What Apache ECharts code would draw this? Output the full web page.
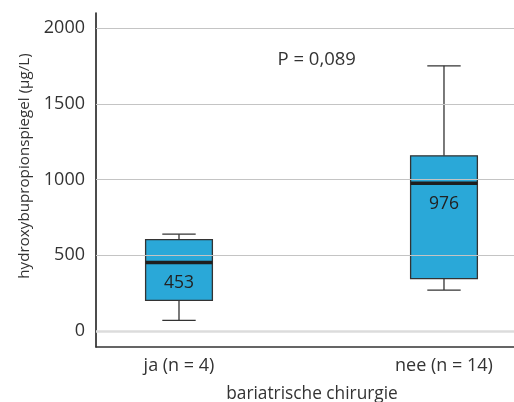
<!DOCTYPE html>
<html><head><meta charset="utf-8">
<script src="https://cdn.jsdelivr.net/npm/echarts@6/dist/echarts.min.js"></script>
<style>html,body{margin:0;padding:0;background:#fff}#c{width:514px;height:402px}</style>
</head><body><div id="c"></div>
<script>
const categories = ['ja (n = 4)', 'nee (n = 14)'];
const categoryPos = [1, 2];
// [min, Q1, median, Q3, max]
const boxValues = [
  [71, 203, 453, 604, 640],
  [271, 347, 976, 1157, 1751]
];
const medianLabels = ['453', '976'];
const yTicks = [0, 500, 1000, 1500, 2000];
const pText = 'P = 0,089';

const FONT = 'Open Sans';
const chart = echarts.init(document.getElementById('c'), null, {renderer: 'canvas'});
const seriesData = boxValues.map((b, i) => [categoryPos[i], ...b, i]);

chart.setOption({
  animation: false,
  grid: {left: 96, right: 0, top: 13, bottom: 55, containLabel: false, outerBoundsMode: 'none'},
  xAxis: {
    type: 'value', min: 0.6868, max: 2.2642,
    name: 'bariatrische chirurgie', nameLocation: 'middle', nameGap: 39,
    nameTextStyle: {fontFamily: FONT, fontSize: 17.3, color: '#333', padding: [0, 0, 0, 14]},
    axisLine: {onZero: false, lineStyle: {color: '#333', width: 1.5}},
    axisTick: {show: false},
    splitLine: {show: false},
    axisLabel: {customValues: categoryPos, margin: 10, fontFamily: FONT, fontSize: 18, color: '#333',
      formatter: v => categories[categoryPos.indexOf(v)] || ''}
  },
  yAxis: {
    type: 'value', min: -105, max: 2100,
    name: 'hydroxybupropionspiegel (µg/L)', nameLocation: 'middle', nameGap: 64,
    nameTextStyle: {fontFamily: FONT, fontSize: 15.2, color: '#333', padding: [0, 0, 0, 28]},
    axisLine: {show: true, lineStyle: {color: '#111', width: 1.5}},
    axisTick: {show: false, customValues: yTicks},
    axisLabel: {customValues: yTicks, margin: 11, fontFamily: FONT, fontSize: 18, color: '#333',
      formatter: v => String(v)},
    splitLine: {show: false}
  },
  graphic: [{type: 'text', x: 277.5, y: 59.5, style: {text: pText, font: '18.5px ' + FONT, fill: '#333', verticalAlign: 'middle'}}],
  series: [{
    type: 'line', data: [], silent: true,
    markLine: {symbol: 'none', silent: true, label: {show: false},
      data: yTicks.map(v => ({yAxis: v, lineStyle: {color: v === 0 ? '#dcdcdc' : '#c4c4c4', width: v === 0 ? 2.5 : 1, type: 'solid'}}))}
  }, {
    type: 'custom', data: seriesData, encode: {x: 0, y: [1, 2, 3, 4, 5]},
    renderItem: function (params, api) {
      const x = api.value(0);
      const pMin = api.coord([x, api.value(1)]);
      const pQ1 = api.coord([x, api.value(2)]);
      const pMed = api.coord([x, api.value(3)]);
      const pQ3 = api.coord([x, api.value(4)]);
      const pMax = api.coord([x, api.value(5)]);
      const w = api.size([0.252, 0])[0];
      const cx = pMed[0];
      const ln = {stroke: '#333', lineWidth: 1.3};
      return {type: 'group', children: [
        {type: 'line', shape: {x1: cx, y1: pMax[1], x2: cx, y2: pQ3[1]}, style: ln},
        {type: 'line', shape: {x1: cx, y1: pMin[1], x2: cx, y2: pQ1[1]}, style: ln},
        {type: 'line', shape: {x1: cx - w / 4, y1: pMax[1], x2: cx + w / 4, y2: pMax[1]}, style: ln},
        {type: 'line', shape: {x1: cx - w / 4, y1: pMin[1], x2: cx + w / 4, y2: pMin[1]}, style: ln},
        {type: 'rect', shape: {x: cx - w / 2, y: pQ3[1], width: w, height: pQ1[1] - pQ3[1]},
          style: {fill: '#2aa8d8', stroke: '#333', lineWidth: 1.3}},
        {type: 'line', shape: {x1: cx - w / 2, y1: pMed[1], x2: cx + w / 2, y2: pMed[1]}, style: {stroke: '#1e1e1e', lineWidth: 3.5}},
        {type: 'text', x: cx, y: pMed[1] + 20.5, style: {text: medianLabels[api.value(6)], font: '17.5px ' + FONT, fill: '#222', align: 'center', verticalAlign: 'middle'}}
      ]};
    }
  }]
});
</script></body></html>
